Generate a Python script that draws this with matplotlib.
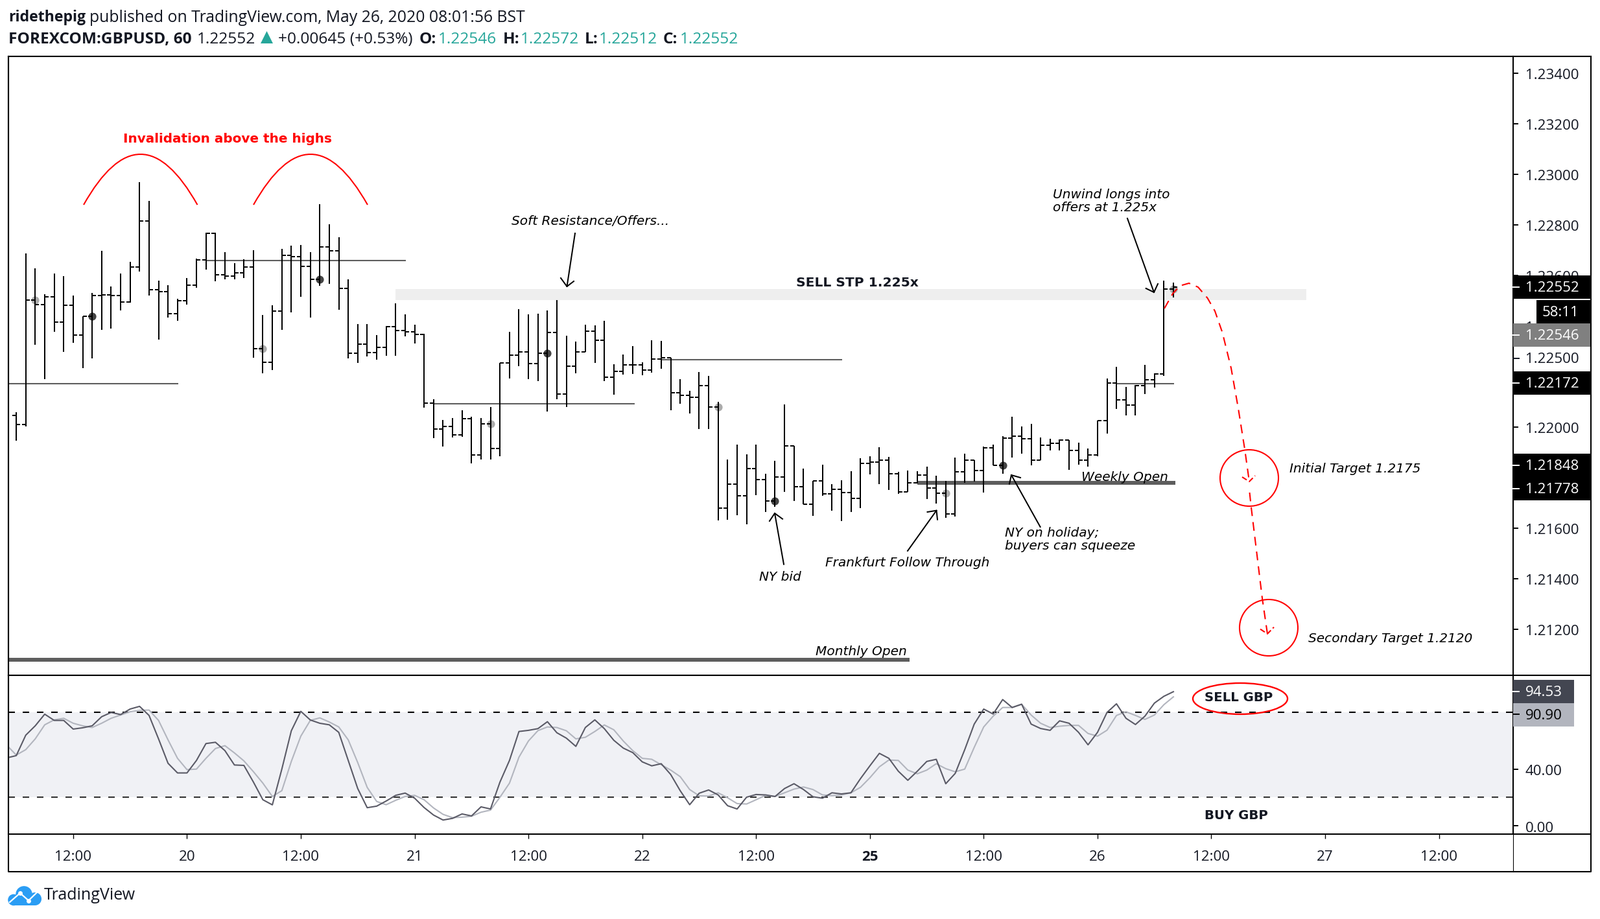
#!/usr/bin/env python3
"""GBPUSD 60 min OHLC chart with a stochastic pane, redrawn from a TradingView snapshot."""

import matplotlib
matplotlib.use("Agg")
import matplotlib.pyplot as plt
from matplotlib.patches import Circle, Ellipse, PathPatch, Polygon, Rectangle
from matplotlib.path import Path
from matplotlib.transforms import ScaledTranslation

first_open = 1.22046

highs = [
    1.22058, 1.22686, 1.22627, 1.22524, 1.22607, 1.22597, 1.22520, 1.22438, 1.22529, 1.22697,
    1.22556, 1.22607, 1.22653, 1.22968, 1.22894, 1.22580, 1.22562, 1.22506, 1.22589, 1.22667,
    1.22768, 1.22768, 1.22691, 1.22648, 1.22663, 1.22699, 1.22443, 1.22481, 1.22704, 1.22716,
    1.22720, 1.22691, 1.22881, 1.22802, 1.22750, 1.22584, 1.22407, 1.22407, 1.22363, 1.22398,
    1.22489, 1.22445, 1.22404, 1.22368, 1.22109, 1.22027, 1.22035, 1.22065, 1.22039, 1.22035,
    1.22080, 1.22253, 1.22375, 1.22466, 1.22445, 1.22448, 1.22461, 1.22502, 1.22361, 1.22338,
    1.22404, 1.22402, 1.22420, 1.22248, 1.22286, 1.22320, 1.22256, 1.22343, 1.22340, 1.22274,
    1.22189, 1.22143, 1.22217, 1.22202, 1.22099, 1.21871, 1.21930, 1.21891, 1.21930, 1.21815,
    1.21866, 1.22089, 1.21926, 1.21835, 1.21787, 1.21850, 1.21774, 1.21789, 1.21825, 1.21876,
    1.21884, 1.21921, 1.21881, 1.21822, 1.21827, 1.21825, 1.21843, 1.21807, 1.21786, 1.21879,
    1.21894, 1.21869, 1.21922, 1.21930, 1.21964, 1.22040, 1.22002, 1.22012, 1.21958, 1.21954,
    1.21951, 1.21947, 1.21938, 1.21915, 1.22026, 1.22191, 1.22238, 1.22158, 1.22166, 1.22245,
    1.22212, 1.22578, 1.22572,
]
lows = [
    1.21945, 1.22003, 1.22326, 1.22189, 1.22377, 1.22297, 1.22332, 1.22233, 1.22272, 1.22384,
    1.22389, 1.22461, 1.22492, 1.22614, 1.22521, 1.22346, 1.22432, 1.22420, 1.22484, 1.22551,
    1.22622, 1.22577, 1.22585, 1.22585, 1.22590, 1.22274, 1.22212, 1.22226, 1.22384, 1.22453,
    1.22515, 1.22432, 1.22558, 1.22566, 1.22463, 1.22271, 1.22253, 1.22279, 1.22266, 1.22281,
    1.22281, 1.22358, 1.22330, 1.22076, 1.21956, 1.21922, 1.21958, 1.21962, 1.21856, 1.21872,
    1.21872, 1.21885, 1.22191, 1.22240, 1.22189, 1.22181, 1.22061, 1.22109, 1.22079, 1.22212,
    1.22297, 1.22253, 1.22181, 1.22127, 1.22207, 1.22209, 1.22204, 1.22215, 1.22230, 1.22066,
    1.22091, 1.22053, 1.21991, 1.21991, 1.21630, 1.21632, 1.21650, 1.21615, 1.21730, 1.21663,
    1.21684, 1.21743, 1.21707, 1.21694, 1.21648, 1.21727, 1.21668, 1.21627, 1.21663, 1.21679,
    1.21811, 1.21774, 1.21751, 1.21736, 1.21743, 1.21776, 1.21715, 1.21697, 1.21641, 1.21646,
    1.21779, 1.21783, 1.21740, 1.21848, 1.21815, 1.21879, 1.21894, 1.21848, 1.21868, 1.21907,
    1.21907, 1.21830, 1.21851, 1.21843, 1.21884, 1.21974, 1.22071, 1.22045, 1.22045, 1.22130,
    1.22156, 1.22202, 1.22512,
]
closes = [
    1.22009, 1.22503, 1.22484, 1.22515, 1.22415, 1.22481, 1.22363, 1.22438, 1.22521, 1.22522,
    1.22521, 1.22494, 1.22632, 1.22815, 1.22544, 1.22535, 1.22448, 1.22500, 1.22561, 1.22662,
    1.22766, 1.22602, 1.22597, 1.22610, 1.22632, 1.22309, 1.22256, 1.22458, 1.22679, 1.22674,
    1.22636, 1.22584, 1.22713, 1.22697, 1.22548, 1.22291, 1.22328, 1.22294, 1.22315, 1.22397,
    1.22381, 1.22376, 1.22366, 1.22094, 1.21991, 1.22003, 1.21968, 1.22032, 1.21889, 1.22012,
    1.21915, 1.22253, 1.22284, 1.22297, 1.22250, 1.22291, 1.22374, 1.22130, 1.22240, 1.22297,
    1.22379, 1.22343, 1.22197, 1.22220, 1.22245, 1.22245, 1.22225, 1.22268, 1.22274, 1.22136,
    1.22125, 1.22117, 1.22163, 1.22079, 1.21679, 1.21774, 1.21727, 1.21835, 1.21791, 1.21707,
    1.21803, 1.21926, 1.21763, 1.21694, 1.21786, 1.21735, 1.21753, 1.21740, 1.21717, 1.21856,
    1.21862, 1.21869, 1.21815, 1.21743, 1.21779, 1.21810, 1.21759, 1.21738, 1.21656, 1.21822,
    1.21869, 1.21827, 1.21918, 1.21848, 1.21956, 1.21964, 1.21954, 1.21869, 1.21928, 1.21936,
    1.21947, 1.21908, 1.21869, 1.21889, 1.22024, 1.22174, 1.22107, 1.22086, 1.22163, 1.22186,
    1.22209, 1.22546, 1.22552,
]

# stochastic, the first value belongs to the bar just left of the first OHLC bar
stoch_k = [
    47.9, 49.5, 63.9, 70.5, 78.7, 74.3, 74.3, 68.2, 69.1, 70.5, 76.9, 79.9, 78.4, 82.3, 84.2, 77.8,
    61.3, 44.1, 37.3, 37.3, 46.1, 58.0, 58.9, 53.0, 42.9, 42.6, 30.9, 18.4, 14.8, 40.0, 67.0, 80.7,
    74.6, 72.3, 71.2, 65.9, 46.1, 26.3, 12.8, 13.9, 17.5, 21.5, 23.1, 19.5, 12.9, 7.6, 4.1, 5.3,
    8.4, 7.0, 13.4, 11.9, 30.9, 46.1, 66.5, 67.3, 68.5, 73.4, 65.6, 61.8, 56.0, 69.3, 74.7, 68.5,
    60.3, 54.8, 51.6, 45.1, 42.3, 43.8, 36.2, 24.8, 14.9, 23.0, 25.3, 21.8, 14.2, 11.9, 20.2, 22.1,
    21.8, 20.7, 26.3, 29.7, 25.6, 20.5, 19.5, 23.3, 22.5, 23.3, 33.2, 42.3, 51.1, 47.6, 38.5, 32.1,
    38.5, 45.4, 46.9, 29.7, 37.0, 53.7, 71.7, 82.3, 78.8, 89.0, 83.4, 85.7, 71.7, 68.6, 67.3, 74.0,
    72.3, 65.9, 57.1, 65.9, 79.9, 86.0, 75.8, 71.4, 77.3, 86.5, 91.3, 94.53,
]
stoch_d = [
    56.8, 49.9, 53.7, 61.3, 71.2, 74.7, 75.8, 72.3, 70.5, 69.3, 72.3, 75.8, 78.1, 80.4, 81.4, 81.6,
    74.3, 60.6, 47.6, 39.6, 40.0, 47.6, 54.5, 56.5, 51.4, 45.8, 38.2, 30.1, 20.7, 24.8, 45.4, 63.2,
    74.3, 76.1, 73.2, 69.7, 60.6, 44.6, 27.1, 17.2, 14.9, 18.0, 20.7, 21.5, 18.4, 12.6, 8.1, 5.8,
    6.1, 6.8, 9.6, 11.1, 20.2, 30.1, 48.4, 59.8, 67.1, 69.7, 69.3, 67.0, 61.3, 62.4, 66.5, 71.1,
    67.7, 59.8, 53.0, 47.6, 46.9, 43.1, 39.3, 34.7, 25.6, 21.2, 21.0, 23.3, 19.8, 15.7, 15.4, 18.4,
    21.5, 20.7, 23.3, 25.9, 27.4, 25.6, 21.8, 21.3, 21.8, 23.3, 27.1, 33.9, 41.6, 46.4, 46.1, 39.3,
    36.7, 39.3, 43.8, 40.3, 38.1, 40.0, 55.3, 69.7, 77.3, 83.4, 83.4, 85.7, 78.1, 72.3, 69.3, 70.2,
    70.8, 70.8, 65.1, 63.2, 67.4, 77.8, 80.4, 77.8, 75.0, 78.1, 85.4, 90.90,
]

# 1.222 and 1.218 sit fully behind the price tags, so they are left out
price_ticks = [1.234, 1.232, 1.230, 1.228, 1.226, 1.224, 1.220, 1.216, 1.214, 1.212]
stoch_ticks = [0, 40]
time_tick_bars = [6, 18, 30, 42, 54, 66, 78, 90, 102, 114, 126, 138, 150]
time_tick_labels = ["12:00", "20", "12:00", "21", "12:00", "22", "12:00", "25", "12:00", "26",
                    "12:00", "27", "12:00"]

light_dot_bars = [2, 26, 50, 74, 98, 122]
dark_dot_bars = [8, 32, 56, 80, 104]

# horizontal levels: price, first bar, last bar
thin_levels = [(1.22172, -0.85, 17.1), (1.22659, 20, 41.1), (1.22092, 44, 65.2),
               (1.22266, 68, 87.1), (1.22172, 116, 122.1)]
thick_levels = [(1.21778, 95, 122.2), (1.21078, -0.85, 94.2)]
sell_zone = (40, 136, 1.22502, 1.22545)
stoch_band = (20, 80)

W, H = 2468, 1418
PANE_L, PANE_R, EDGE_R = 13, 2334, 2454
MAIN_T, MAIN_B, STOCH_B, BOTTOM = 87, 1042, 1287, 1345

TEAL = "#26a69a"
INK = "#131722"
LEVEL = "#5d5d5d"
SANS = "Open Sans"
NOTE = "DejaVu Sans"
NOTE_SIZE = 14.5


def _pane(left, top, right, bottom):
    ax = plt.gcf().add_axes([left / W, 1 - bottom / H, (right - left) / W, (bottom - top) / H])
    ax.set_xlim(-0.827, 157.82)
    ax.yaxis.tick_right()
    ax.tick_params(axis="y", length=6, width=1.4, pad=7.5, labelsize=16, labelcolor=INK)
    for side in ax.spines.values():
        side.set_linewidth(1.5)
    return ax


def _nudge_labels(ax, fig):
    # tag text in the snapshot sits a touch lower than matplotlib centres it
    down = ScaledTranslation(0, -1.5 / 100, fig.dpi_scale_trans)
    for lab in ax.get_yticklabels():
        lab.set_transform(lab.get_transform() + down)


def _draw_bars(ax):
    bars = list(range(len(closes)))
    opens = [first_open] + closes[:-1]
    ax.vlines(bars, lows, highs, color="black", lw=1.44, zorder=3)
    ax.hlines(opens, [b - 0.41 for b in bars], bars, color="black", lw=1.44, zorder=3)
    ax.hlines(closes, bars, [b + 0.41 for b in bars], color="black", lw=1.44, zorder=3)
    # session pivots sit on the open of their bar
    ax.plot(light_dot_bars, [opens[b] for b in light_dot_bars], "o", color="#ababab", ms=8.8, mew=0, zorder=2)
    ax.plot(dark_dot_bars, [opens[b] for b in dark_dot_bars], "o", color="#444444", ms=8.8, mew=0, zorder=2)


def _arrow(ov, tail, tip, barb_a, barb_b, color="black", **kw):
    kw.setdefault("lw", 1.45)
    ov.plot([tail[0], tip[0]], [tail[1], tip[1]], color=color, **kw)
    ov.plot([barb_a[0], tip[0], barb_b[0]], [barb_a[1], tip[1], barb_b[1]], color=color, **kw)


def _arc(ov, left, right, peak_y):
    ctrl_y = 2 * peak_y - left[1]
    path = Path([left, ((left[0] + right[0]) / 2, ctrl_y), right], [Path.MOVETO, Path.CURVE3, Path.CURVE3])
    ov.add_patch(PathPatch(path, fill=False, edgecolor="red", lw=1.5))


def _header(ov):
    ov.text(13, 27, "ridethepig", fontsize=16.7, family=SANS, weight="bold", color=INK, va="center")
    ov.text(138, 27, "published on TradingView.com, May 26, 2020 08:01:56 BST", fontsize=17.8,
            family=SANS, color=INK, va="center")
    runs = [
        (13, "FOREXCOM:GBPUSD, 60", "bold", INK), (304, "1.22552", "normal", INK),
        (429, "+0.00645 (+0.53%)", "normal", INK),
        (647, "O:", "bold", INK), (676, "1.22546", "normal", TEAL),
        (776, "H:", "bold", INK), (803, "1.22572", "normal", TEAL),
        (902, "L:", "bold", INK), (924, "1.22512", "normal", TEAL),
        (1023, "C:", "bold", INK), (1049, "1.22552", "normal", TEAL),
    ]
    for x, s, weight, color in runs:
        ov.text(x, 61, s, fontsize=17.6, family=SANS, weight=weight, color=color, va="center")
    ov.add_patch(Polygon([(402, 67), (411.5, 48), (421, 67)], color=TEAL, lw=0))


def _notes(ov):
    def note(x, y, s, ha="left"):
        ov.text(x, y + 1.5, s, fontsize=NOTE_SIZE, family=NOTE, style="italic", color="black", va="center", ha=ha)

    ov.text(190, 214.5, "Invalidation above the highs", fontsize=14.4, family=NOTE, weight="bold",
            color="red", va="center")
    _arc(ov, (129, 316), (304.5, 316), 238)
    _arc(ov, (391, 316), (567, 316), 238)

    note(789, 340, "Soft Resistance/Offers...")
    _arrow(ov, (887, 360), (874.5, 442), (865, 429), (885, 434))
    ov.text(1228, 436, "SELL STP 1.225x", fontsize=14.6, family=NOTE, weight="bold", color=INK, va="center")

    note(1624, 299, "Unwind longs into")
    note(1624, 319, "offers at 1.225x")
    _arrow(ov, (1739, 337), (1780, 451), (1767.7, 445), (1786, 438))

    note(1668, 734.5, "Weekly Open")
    note(1258, 1004, "Monthly Open")
    note(1171, 888.5, "NY bid")
    _arrow(ov, (1209, 870.7), (1195, 792), (1187, 804), (1207, 800.7))
    note(1273, 867, "Frankfurt Follow Through")
    _arrow(ov, (1400, 850), (1444.5, 787.7), (1430.5, 790), (1446, 801.7))
    note(1550, 821, "NY on holiday;")
    note(1550, 841, "buyers can squeeze")
    _arrow(ov, (1604.6, 813), (1560, 733), (1557, 746.7), (1574, 737))

    note(1989, 722, "Initial Target 1.2175")
    note(2018, 984, "Secondary Target 1.2120")

    # projected path, dashed and in two legs
    dash = dict(color="red", lw=1.5, ls=(0, (6.5, 4.5)))
    curve = [(1796, 476), (1809, 453), (1820, 441), (1834, 437), (1848, 443), (1862.6, 460),
             (1874, 480), (1885.5, 513), (1899, 568), (1910, 630), (1920, 693), (1927, 743)]
    ov.plot(*zip(*curve), **dash)
    ov.plot([1916, 1927, 1936], [736, 743, 734], color="red", lw=1.5, ls=(0, (4, 2)))
    ov.plot([1927.5, 1930, 1947, 1955], [760, 783, 923, 978], **dash)
    ov.plot([1944, 1955, 1965], [970.7, 978, 967.7], color="red", lw=1.5, ls=(0, (4, 2)))
    ov.add_patch(Ellipse((1927, 737.5), 90, 87, fill=False, edgecolor="red", lw=1.5))
    ov.add_patch(Ellipse((1957, 968.5), 90, 87, fill=False, edgecolor="red", lw=1.5))

    ov.add_patch(Ellipse((1913, 1078), 146, 48, fill=False, edgecolor="red", lw=1.7))
    ov.text(1858, 1076, "SELL GBP", fontsize=14.2, family=NOTE, weight="bold", color=INK, va="center")
    ov.text(1858.5, 1258, "BUY GBP", fontsize=14.2, family=NOTE, weight="bold", color=INK, va="center")


def _side_labels(ov):
    boxes = [
        (2334, 425, 2454, 460.7, "black", 2353, "1.22552", "white", 442.5),
        (2370, 462.7, 2454, 499, "black", 2378.5, "58:11", "white", None),
        (2334, 499, 2454, 535, "#808080", 2353, "1.22546", "white", 516.5),
        (2334, 572.7, 2454, 609, "black", 2353, "1.22172", "white", 591),
        (2334, 700, 2454, 735.7, "black", 2353, "1.21848", "white", 718),
        (2334, 735.7, 2454, 771.7, "black", 2353, "1.21778", "white", 754),
        (2334, 1049, 2428, 1085, "#434651", 2353, "94.53", "white", 1067),
        (2334, 1085, 2428, 1120.7, "#b2b5be", 2353, "90.90", "black", 1102),
    ]
    for x0, y0, x1, y1, fill, tx, s, ink, tick_y in boxes:
        ov.add_patch(Rectangle((x0, y0), x1 - x0, y1 - y0, color=fill, lw=0))
        ov.text(tx, (y0 + y1) / 2 + 1.5, s, fontsize=16, family=SANS, color=ink, va="center")
        if tick_y is not None:
            ov.plot([2334, 2342.5], [tick_y, tick_y], color=ink, lw=1.4)
    # the 1.22500 tag is pushed away from its level by the tags above it
    ov.text(2353, 554, "1.22500", fontsize=16, family=SANS, color=INK, va="center")
    ov.plot([2334, 2342.5], [552.7, 552.7], color=INK, lw=1.4)


def _logo(ov):
    blue = "#2a9df4"
    ov.add_patch(Circle((21, 1388.5), 8.8, color=blue, lw=0))
    ov.add_patch(Circle((37, 1380), 12.8, color=blue, lw=0))
    ov.add_patch(Circle((54, 1387), 10, color=blue, lw=0))
    ov.add_patch(Rectangle((21, 1385), 33, 12, color=blue, lw=0))
    ov.plot([15, 31, 44, 58], [1392, 1378, 1389.5, 1376], color="white", lw=1.6)
    ov.plot([31, 44], [1378, 1389.5], "o", color="white", ms=5, mew=0)
    ov.text(67.5, 1381, "TradingView", fontsize=18, family=SANS, color=INK, va="center")


def main():
    fig = plt.figure(figsize=(W / 100, H / 100), dpi=100, facecolor="white")

    ax = _pane(PANE_L, MAIN_T, PANE_R, MAIN_B)
    ax.set_ylim(1.210172, 1.234659)
    ax.set_xticks([])
    ax.set_yticks(price_ticks)
    ax.set_yticklabels([f"{p:.5f}" for p in price_ticks], family=SANS)
    _nudge_labels(ax, fig)

    ax.add_patch(Rectangle((sell_zone[0], sell_zone[2]), sell_zone[1] - sell_zone[0],
                           sell_zone[3] - sell_zone[2], color="#eeeeee", lw=0, zorder=1))
    for price, x0, x1 in thin_levels:
        ax.hlines(price, x0, x1, color=LEVEL, lw=1.5, zorder=2)
    for price, x0, x1 in thick_levels:
        ax.hlines(price, x0, x1, color=LEVEL, lw=4.3, zorder=2)
    _draw_bars(ax)

    st = _pane(PANE_L, MAIN_B, PANE_R, STOCH_B)
    st.set_ylim(-5.8, 106.07)
    st.axhspan(stoch_band[0], stoch_band[1], color="#f0f1f5", lw=0, zorder=0)
    for level, shade in zip(stoch_band, ("#333333", "black")):
        st.axhline(level, color=shade, lw=1.5, ls=(0, (4.8, 5.76)), zorder=1)
    st_x = list(range(-1, len(stoch_k) - 1))
    st.plot(st_x, stoch_d, color="#b2b5be", lw=1.5, zorder=2)
    st.plot(st_x, stoch_k, color="#5a5a66", lw=1.5, zorder=3)
    st.set_yticks(stoch_ticks)
    st.set_yticklabels([f"{v:.2f}" for v in stoch_ticks], family=SANS)
    _nudge_labels(st, fig)
    st.set_xticks(time_tick_bars)
    st.set_xticklabels(time_tick_labels, family=SANS)
    st.tick_params(axis="x", length=5, width=1, pad=13, labelsize=16, labelcolor=INK)
    for lab, s in zip(st.get_xticklabels(), time_tick_labels):
        if s == "25":
            lab.set_fontweight("bold")

    # overlay in image pixels for frame, hand drawn notes and price tags
    ov = fig.add_axes([0, 0, 1, 1], zorder=5)
    ov.set_xlim(0, W)
    ov.set_ylim(H, 0)
    ov.axis("off")
    ov.patch.set_alpha(0)
    ov.plot([PANE_L, PANE_L, EDGE_R, EDGE_R], [MAIN_T, BOTTOM, BOTTOM, MAIN_T], color="black", lw=1.5)
    ov.plot([PANE_R, EDGE_R], [MAIN_T, MAIN_T], color="black", lw=1.5)
    ov.plot([PANE_R, EDGE_R], [MAIN_B, MAIN_B], color="black", lw=1.5)
    ov.plot([PANE_R, EDGE_R], [STOCH_B, STOCH_B], color="black", lw=1.5)
    ov.plot([PANE_R, PANE_R], [STOCH_B, BOTTOM], color="black", lw=0.8)

    _header(ov)
    _notes(ov)
    _side_labels(ov)
    _logo(ov)

    fig.savefig("out.png", dpi=100, facecolor="white")
    plt.close(fig)


if __name__ == "__main__":
    main()
